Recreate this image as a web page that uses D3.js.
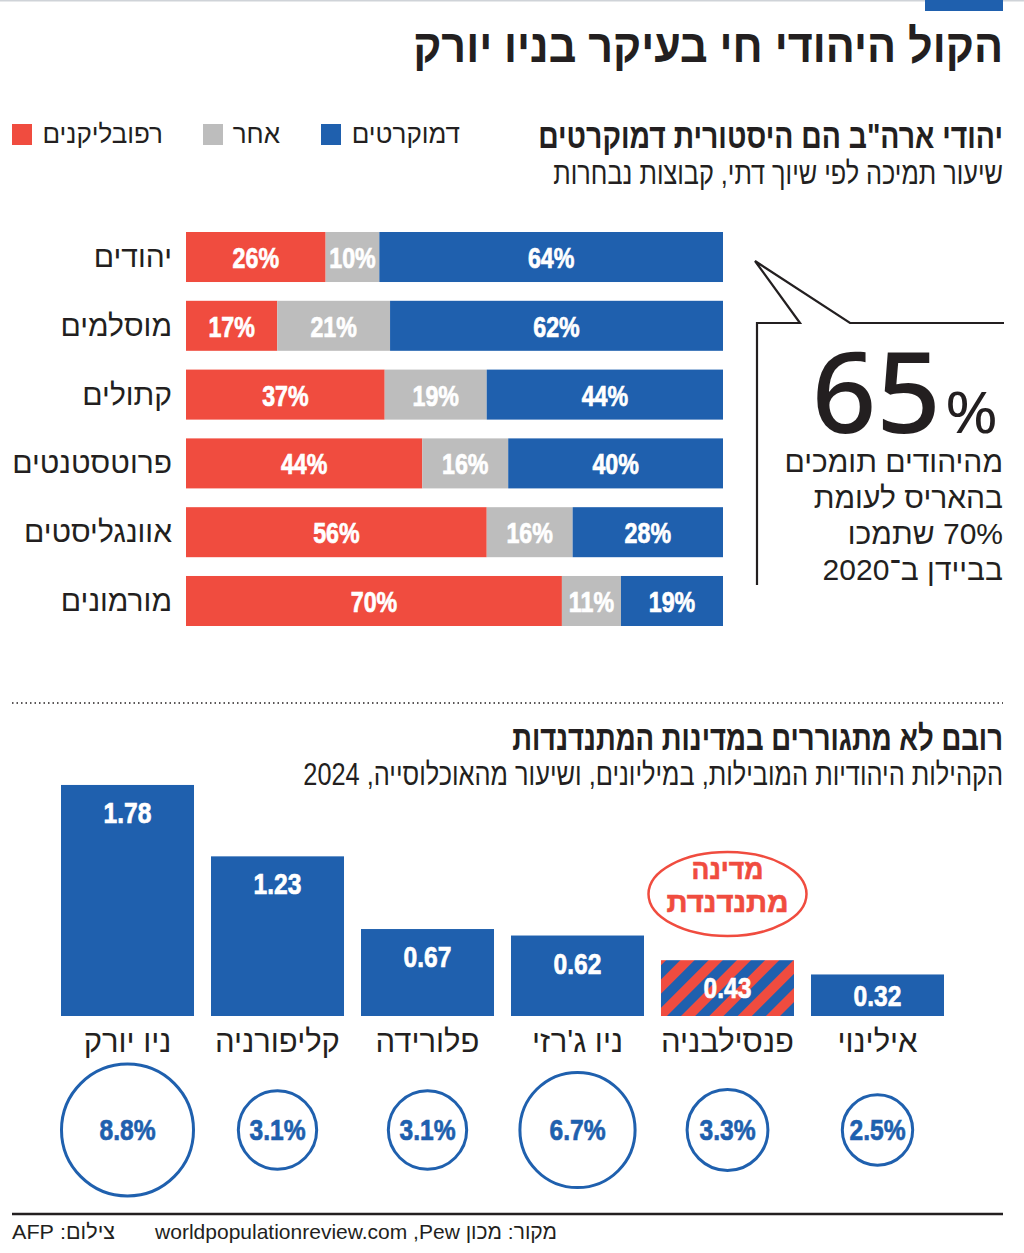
<!DOCTYPE html>
<html><head><meta charset="utf-8">
<script src="https://cdn.jsdelivr.net/npm/d3@7"></script>
<style>
html,body{margin:0;padding:0;background:#fff;}
svg{display:block;}
.rtl{direction:rtl;unicode-bidi:embed;}
</style></head>
<body>
<script>
// ---------- DATA ----------
const groups = ["יהודים","מוסלמים","קתולים","פרוטסטנטים","אוונגליסטים","מורמונים"];
const republicans = [26,17,37,44,56,70];
const other = [10,21,19,16,16,11];
const democrats = [64,62,44,40,28,19];
const seriesNames = ["רפובליקנים","אחר","דמוקרטים"];

const states = ["ניו יורק","קליפורניה","פלורידה","ניו ג'רזי","פנסילבניה","אילינוי"];
const jewsMillions = [1.78,1.23,0.67,0.62,0.43,0.32];
const popShare = [8.8,3.1,3.1,6.7,3.3,2.5];
const swingState = "פנסילבניה";

const RED="#f04c3f", GRAY="#bdbdbd", BLUE="#1f60ae", INK="#231f20";
const HEB = "'Liberation Sans','DejaVu Sans',sans-serif";
const NUM = "'Liberation Sans','Arial',sans-serif";

const W=1024,H=1253;
const svg=d3.select("body").append("svg").attr("width",W).attr("height",H);

// RTL text anchored at its right edge (x). Optional fit to a target width via horizontal scaling.
function rtext(x,y,txt,size,opts={}){
  const t=svg.append("text").attr("class","rtl")
    .attr("text-anchor","start")
    .attr("font-family",opts.family||HEB).attr("font-size",size)
    .attr("font-weight",opts.weight||"normal").attr("fill",opts.fill||INK).text(txt);
  let s=opts.scale||1;
  if(opts.fit){ const w=t.node().getComputedTextLength(); if(w>0) s=opts.fit/w; }
  t.attr("transform",`translate(${x},${y}) scale(${s},1)`);
  return t;
}
// centered condensed number/text
function ctext(x,y,txt,size,opts={}){
  const fill=opts.fill||"#fff";
  const t=svg.append("text").attr("text-anchor","middle")
    .attr("font-family",opts.family||NUM).attr("font-size",size)
    .attr("font-weight",opts.weight||"bold").attr("fill",fill).text(txt);
  if(opts.heavy) t.attr("stroke",fill).attr("stroke-width",opts.heavy);
  if(opts.rtl) t.attr("class","rtl");
  let s=opts.scale||1;
  if(opts.fit){ const w=t.node().getComputedTextLength(); if(w>0) s=opts.fit/w; }
  t.attr("transform",`translate(${x},${y}) scale(${s},1)`);
  return t;
}

// top decoration
svg.append("rect").attr("x",0).attr("y",0).attr("width",W).attr("height",1.5).attr("fill","#cfd3d8");
svg.append("rect").attr("x",925).attr("y",0).attr("width",78).attr("height",11).attr("fill",BLUE);

// Main title
rtext(1003,62,"הקול היהודי חי בעיקר בניו יורק",47,{weight:"bold",fit:590});

// Section 1 titles
rtext(1003,148,"יהודי ארה\"ב הם היסטורית דמוקרטים",35,{weight:"bold",fit:465});
rtext(1003,184,"שיעור תמיכה לפי שיוך דתי, קבוצות נבחרות",31,{fit:450});

// Legend
const legend=[{n:seriesNames[2],c:BLUE,sx:321,tr:460},{n:seriesNames[1],c:GRAY,sx:203,tr:280},{n:seriesNames[0],c:RED,sx:12,tr:163}];
legend.forEach(l=>{
  svg.append("rect").attr("x",l.sx).attr("y",124).attr("width",20).attr("height",21).attr("fill",l.c);
  rtext(l.tr,143,l.n,26,{family:HEB});
});

// Stacked bars
const x=d3.scaleLinear().domain([0,100]).range([186,723]);
const y=d3.scaleBand().domain(groups).range([232,626]).paddingInner(0.273);
const rows=groups.map((g,i)=>({g,vals:[republicans[i],other[i],democrats[i]]}));
const colors=[RED,GRAY,BLUE];
rows.forEach(r=>{
  let acc=0;
  r.vals.forEach((v,k)=>{
    const x0=x(acc), x1=x(acc+v);
    svg.append("rect").attr("x",x0).attr("y",y(r.g)).attr("width",x1-x0).attr("height",y.bandwidth()).attr("fill",colors[k]);
    ctext((x0+x1)/2,y(r.g)+y.bandwidth()/2+11,v+"%",29,{scale:0.8,heavy:0.7});
    acc+=v;
  });
  rtext(172,y(r.g)+y.bandwidth()/2+10,r.g,30,{family:HEB});
});

// Callout
svg.append("path").attr("d","M757,585 L757,323 L800,323 L755,261 L850,323 L1004,323")
  .attr("fill","none").attr("stroke",INK).attr("stroke-width",2.2);
svg.append("text").attr("x",941).attr("y",433).attr("text-anchor","end")
  .attr("font-family","'Noto Sans','Lato',sans-serif").attr("font-weight",500).attr("font-size",113).attr("fill",INK).text("65");
svg.append("text").attr("x",0).attr("y",0).attr("text-anchor","start")
  .attr("transform","translate(945,433) scale(1.12,1)")
  .attr("font-family","'Noto Sans','Lato',sans-serif").attr("font-weight",400).attr("font-size",57).attr("fill",INK).text("%");
const callLines=["מהיהודים תומכים","בהאריס לעומת","70% שתמכו","בביידן ב־2020"];
callLines.forEach((t,i)=>rtext(1003,472+i*36,t,30,{family:HEB}));

// dotted separator
svg.append("line").attr("x1",12).attr("x2",1003).attr("y1",703).attr("y2",703)
  .attr("stroke",INK).attr("stroke-width",1.5).attr("stroke-dasharray","1.5,3");

// Section 2 titles
rtext(1003,750,"רובם לא מתגוררים במדינות המתנדנדות",35,{weight:"bold",fit:491});
rtext(1003,785,"הקהילות היהודיות המובילות, במיליונים, ושיעור מהאוכלוסייה, 2024",31,{fit:700});

// pattern
const defs=svg.append("defs");
const pat=defs.append("pattern").attr("id","stripes").attr("patternUnits","userSpaceOnUse")
  .attr("width",20).attr("height",20).attr("patternTransform","rotate(45)");
pat.append("rect").attr("width",20).attr("height",20).attr("fill",BLUE);
pat.append("rect").attr("width",10).attr("height",20).attr("fill",RED);

// column bars
const xb=d3.scaleBand().domain(states).range([61,944]).paddingInner(0.1133);
const yb=d3.scaleLinear().domain([0,2]).range([1016,1016-259.6]);
const rr=d3.scaleSqrt().domain([0,8.8]).range([0,66]);
states.forEach((s,i)=>{
  const v=jewsMillions[i], top=yb(v), bx=xb(s), bw=xb.bandwidth(), cx=bx+bw/2;
  if(s===swingState){
    svg.append("ellipse").attr("cx",cx).attr("cy",894).attr("rx",79).attr("ry",42)
      .attr("fill","#fff").attr("stroke",RED).attr("stroke-width",2.5);
    ctext(cx,879,"מדינה",28,{fill:RED,rtl:true,fit:72,heavy:0.6});
    ctext(cx,912,"מתנדנדת",28,{fill:RED,rtl:true,fit:122,heavy:0.6});
  }
  svg.append("rect").attr("x",bx).attr("y",top).attr("width",bw).attr("height",yb(0)-top)
    .attr("fill",s===swingState?"url(#stripes)":BLUE);
  const ly=Math.min(top+38,(top+yb(0))/2+11);
  ctext(cx,ly,v.toFixed(2),30,{scale:0.82,heavy:0.7});
  ctext(cx,1052,s,31,{family:HEB,weight:"normal",fill:INK,rtl:true});
  svg.append("circle").attr("cx",cx).attr("cy",1130).attr("r",rr(popShare[i]))
    .attr("fill","none").attr("stroke",BLUE).attr("stroke-width",3);
  ctext(cx,1140,popShare[i].toFixed(1)+"%",30,{fill:BLUE,scale:0.82,heavy:0.7});
});

// footer
svg.append("line").attr("x1",12).attr("x2",1003).attr("y1",1214).attr("y2",1214).attr("stroke",INK).attr("stroke-width",2.5);
rtext(557,1239,"מקור: מכון Pew\u200F, worldpopulationreview.com",21,{fit:402});
rtext(115,1239,"צילום: AFP",21,{fit:103});
</script>
</body></html>
